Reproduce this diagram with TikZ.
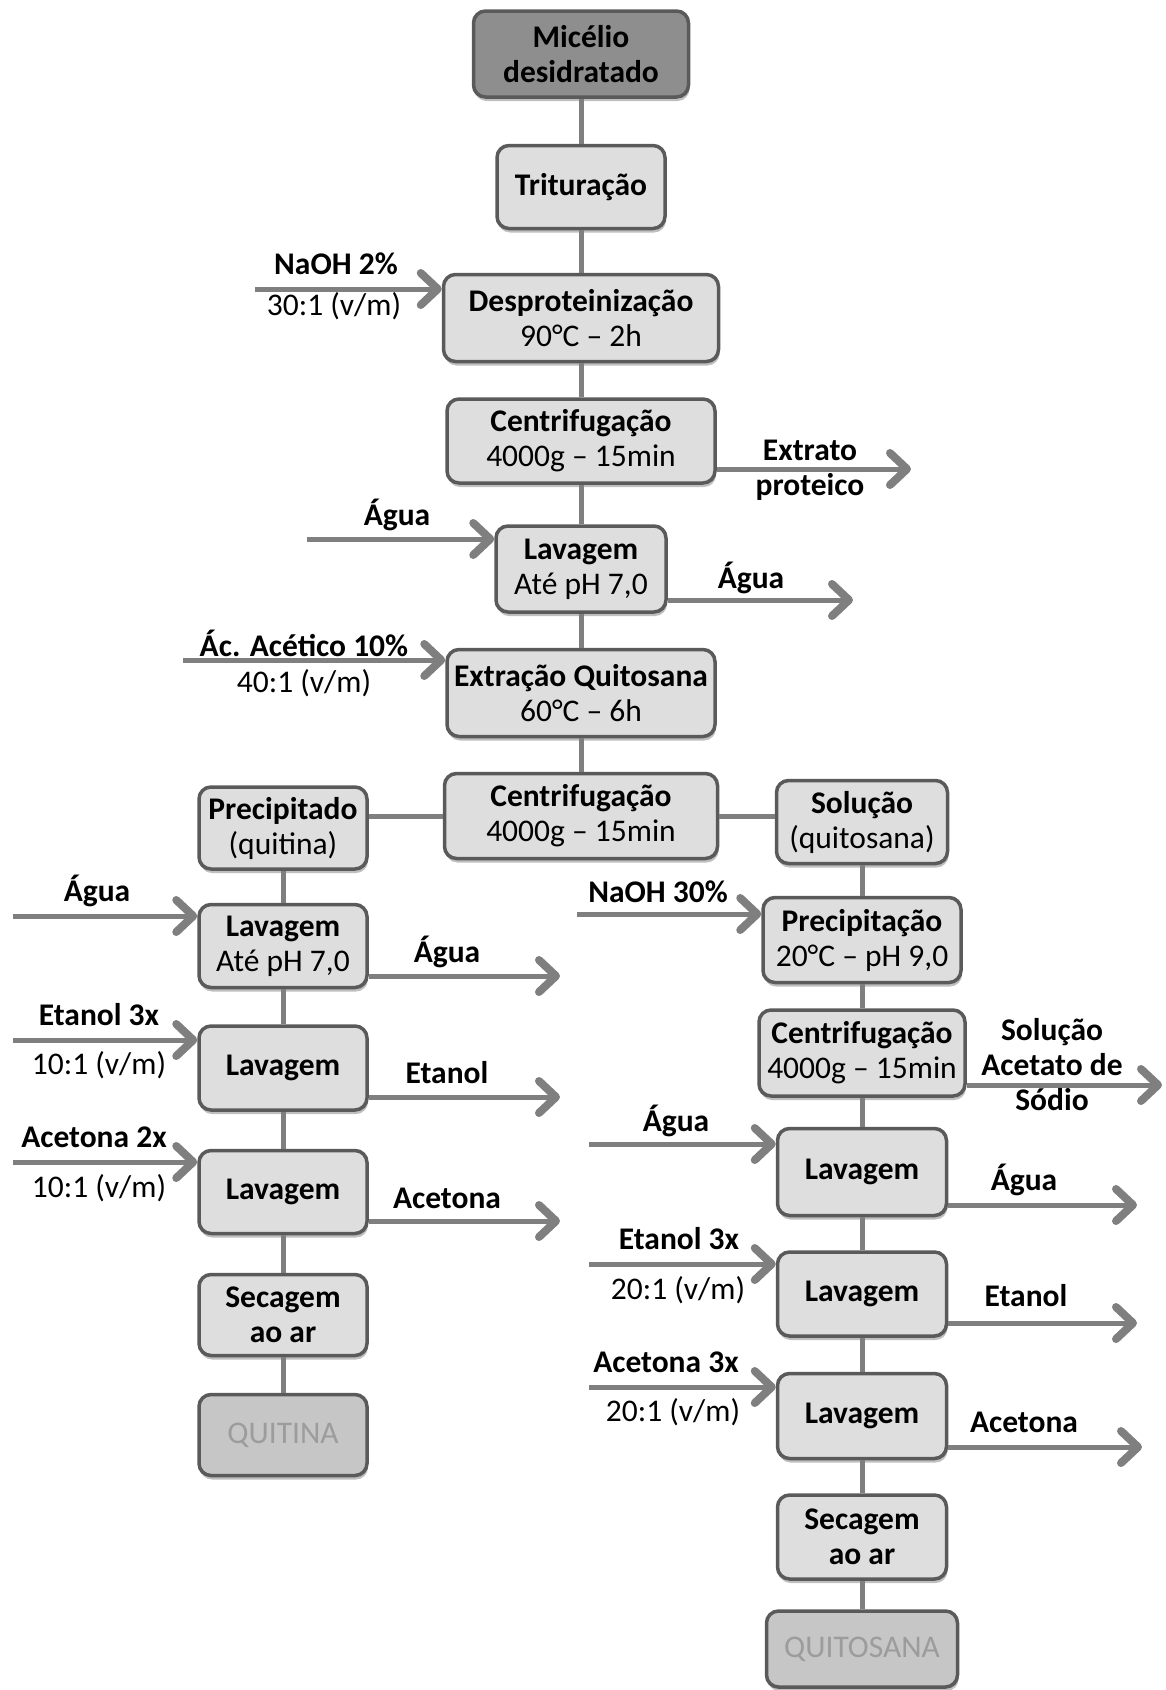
\documentclass[tikz,border=0pt]{standalone}
\usepackage{fontspec}
\setmainfont{Carlito}
\usetikzlibrary{arrows.meta,shadows}
\definecolor{boxfill}{HTML}{DEDEDE}
\definecolor{boxline}{HTML}{5A5A5A}
\definecolor{topfill}{HTML}{8E8E8E}
\definecolor{endfill}{HTML}{C6C6C6}
\definecolor{endtext}{HTML}{9C9C9C}
\definecolor{linkc}{HTML}{7F7F7F}
\tikzset{
  txt/.style={font=\fontsize{31.5}{35}\selectfont, align=center, inner sep=0pt},
  stepbox/.style={txt, draw=boxline, line width=3.5pt, fill=boxfill, rounded corners=12pt,
    drop shadow={shadow xshift=1pt, shadow yshift=-4pt, fill=black, opacity=0.25}},
  topbox/.style={stepbox, fill=topfill},
  endbox/.style={stepbox, fill=endfill, text=endtext},
  link/.style={draw=linkc, line width=5pt},
  feed/.style={link, -{Straight Barb[length=17pt, width=32pt, line width=8pt, line cap=round, line join=round]}},
  lbl/.style={txt},
}
\newcommand{\two}[2]{\textbf{#1}\\#2}

\begin{document}
\begin{tikzpicture}[x=1pt, y=-1pt]
  \useasboundingbox (0,0) rectangle (1166,1690);
  % main column
  \node[topbox, minimum width=215pt, minimum height=86pt] (mic) at (581,54) {\textbf{Micélio}\\\textbf{desidratado}};
  \node[stepbox, minimum width=168pt, minimum height=83pt] (trit) at (581,187) {\textbf{Trituração}};
  \node[stepbox, minimum width=275pt, minimum height=87pt] (desp) at (581,318) {\two{Desproteinização}{90°C – 2h}};
  \node[stepbox, minimum width=268pt, minimum height=84pt] (cenA) at (581,441) {\two{Centrifugação}{4000g – 15min}};
  \node[stepbox, minimum width=170pt, minimum height=86pt] (lavA) at (581,569) {\two{Lavagem}{Até pH 7,0}};
  \node[stepbox, minimum width=268pt, minimum height=87pt] (extr) at (581,693) {\two{Extração Quitosana}{60°C – 6h}};
  \node[stepbox, minimum width=273pt, minimum height=85pt] (cenB) at (581,816) {\two{Centrifugação}{4000g – 15min}};
  % left column
  \node[stepbox, minimum width=168pt, minimum height=82pt] (prec) at (283,828) {\two{Precipitado}{(quitina)}};
  \node[stepbox, minimum width=168pt, minimum height=83pt] (lavL1) at (283,946) {\two{Lavagem}{Até pH 7,0}};
  \node[stepbox, minimum width=168pt, minimum height=84pt] (lavL2) at (283,1068) {\textbf{Lavagem}};
  \node[stepbox, minimum width=168pt, minimum height=83pt] (lavL3) at (283,1192) {\textbf{Lavagem}};
  \node[stepbox, minimum width=168pt, minimum height=81pt] (secL) at (283,1315) {\textbf{Secagem}\\\textbf{ao ar}};
  \node[endbox, minimum width=168pt, minimum height=81pt] (quitina) at (283,1435) {QUITINA};
  % right column
  \node[stepbox, minimum width=171pt, minimum height=83pt] (sol) at (862,822) {\two{Solução}{(quitosana)}};
  \node[stepbox, minimum width=198pt, minimum height=85pt] (pcpt) at (862,940) {\two{Precipitação}{20°C – pH 9,0}};
  \node[stepbox, minimum width=206pt, minimum height=86pt] (cenC) at (862,1053) {\two{Centrifugação}{4000g – 15min}};
  \node[stepbox, minimum width=169pt, minimum height=87pt] (lavR1) at (862,1172) {\textbf{Lavagem}};
  \node[stepbox, minimum width=169pt, minimum height=84pt] (lavR2) at (862,1294) {\textbf{Lavagem}};
  \node[stepbox, minimum width=169pt, minimum height=85pt] (lavR3) at (862,1416) {\textbf{Lavagem}};
  \node[stepbox, minimum width=169pt, minimum height=84pt] (secR) at (862,1537) {\textbf{Secagem}\\\textbf{ao ar}};
  \node[endbox, minimum width=191pt, minimum height=76pt] (quitosana) at (862,1649) {QUITOSANA};

  \draw[link] (mic) -- (trit);
  \draw[link] (trit) -- (desp);
  \draw[link] (desp) -- (cenA);
  \draw[link] (cenA) -- (lavA);
  \draw[link] (lavA) -- (extr);
  \draw[link] (extr) -- (cenB);
  \draw[link] (cenB.west) -- (cenB.west -| prec.east);
  \draw[link] (cenB.east) -- (cenB.east -| sol.west);
  \draw[link] (prec) -- (lavL1);
  \draw[link] (lavL1) -- (lavL2);
  \draw[link] (lavL2) -- (lavL3);
  \draw[link] (lavL3) -- (secL);
  \draw[link] (secL) -- (quitina);
  \draw[link] (sol) -- (pcpt);
  \draw[link] (pcpt) -- (cenC);
  \draw[link] (cenC) -- (lavR1);
  \draw[link] (lavR1) -- (lavR2);
  \draw[link] (lavR2) -- (lavR3);
  \draw[link] (lavR3) -- (secR);
  \draw[link] (secR) -- (quitosana);

  % inputs
  \coordinate (inA) at (255,289);
  \coordinate (inB) at (307,539);
  \coordinate (inC) at (183,660);
  \coordinate (inD) at (13,916);
  \coordinate (inE) at (13,1040);
  \coordinate (inF) at (13,1162);
  \coordinate (inG) at (577,914);
  \coordinate (inH) at (589,1144);
  \coordinate (inI) at (589,1264);
  \coordinate (inJ) at (589,1387);
  \draw[feed] (inA) -- (inA -| desp.west);
  \draw[feed] (inB) -- (inB -| lavA.west);
  \draw[feed] (inC) -- (inC -| extr.west);
  \draw[feed] (inD) -- (inD -| lavL1.west);
  \draw[feed] (inE) -- (inE -| lavL2.west);
  \draw[feed] (inF) -- (inF -| lavL3.west);
  \draw[feed] (inG) -- (inG -| pcpt.west);
  \draw[feed] (inH) -- (inH -| lavR1.west);
  \draw[feed] (inI) -- (inI -| lavR2.west);
  \draw[feed] (inJ) -- (inJ -| lavR3.west);
  \node[lbl] (inAt) at (336,264) {\textbf{NaOH 2\%}};
  \node[lbl] (inAb) at (334,306) {30:1 (v/m)};
  \node[lbl] (inBt) at (397,515) {\textbf{Água}};
  \node[lbl] (inCt) at (304,643) {\textbf{Ác. Acético 10\%}};
  \node[lbl] (inCb) at (304,683) {40:1 (v/m)};
  \node[lbl] (inDt) at (97,891) {\textbf{Água}};
  \node[lbl] (inEt) at (99,1015) {\textbf{Etanol 3x}};
  \node[lbl] (inEb) at (99,1065) {10:1 (v/m)};
  \node[lbl] (inFt) at (94,1137) {\textbf{Acetona 2x}};
  \node[lbl] (inFb) at (99,1188) {10:1 (v/m)};
  \node[lbl] (inGt) at (658,892) {\textbf{NaOH 30\%}};
  \node[lbl] (inHt) at (676,1121) {\textbf{Água}};
  \node[lbl] (inIt) at (679,1239) {\textbf{Etanol 3x}};
  \node[lbl] (inIb) at (678,1290) {20:1 (v/m)};
  \node[lbl] (inJt) at (666,1362) {\textbf{Acetona 3x}};
  \node[lbl] (inJb) at (673,1412) {20:1 (v/m)};

  % outputs
  \coordinate (outA) at (911,469);
  \coordinate (outB) at (853,600);
  \coordinate (outC) at (560,976);
  \coordinate (outD) at (560,1097);
  \coordinate (outE) at (560,1221);
  \coordinate (outF) at (1162,1085);
  \coordinate (outG) at (1137,1205);
  \coordinate (outH) at (1137,1323);
  \coordinate (outI) at (1142,1447);
  \draw[feed] (cenA.east |- outA) -- (outA);
  \draw[feed] (lavA.east |- outB) -- (outB);
  \draw[feed] (lavL1.east |- outC) -- (outC);
  \draw[feed] (lavL2.east |- outD) -- (outD);
  \draw[feed] (lavL3.east |- outE) -- (outE);
  \draw[feed] (cenC.east |- outF) -- (outF);
  \draw[feed] (lavR1.east |- outG) -- (outG);
  \draw[feed] (lavR2.east |- outH) -- (outH);
  \draw[feed] (lavR3.east |- outI) -- (outI);
  \node[lbl] (outAt) at (810,470) {\textbf{Extrato}\\\textbf{proteico}};
  \node[lbl] (outBt) at (751,578) {\textbf{Água}};
  \node[lbl] (outCt) at (447,952) {\textbf{Água}};
  \node[lbl] (outDt) at (447,1073) {\textbf{Etanol}};
  \node[lbl] (outEt) at (447,1198) {\textbf{Acetona}};
  \node[lbl] (outFt) at (1052,1065) {\textbf{Solução}\\\textbf{Acetato de}\\\textbf{Sódio}};
  \node[lbl] (outGt) at (1024,1180) {\textbf{Água}};
  \node[lbl] (outHt) at (1026,1296) {\textbf{Etanol}};
  \node[lbl] (outIt) at (1024,1422) {\textbf{Acetona}};
\end{tikzpicture}
\end{document}
